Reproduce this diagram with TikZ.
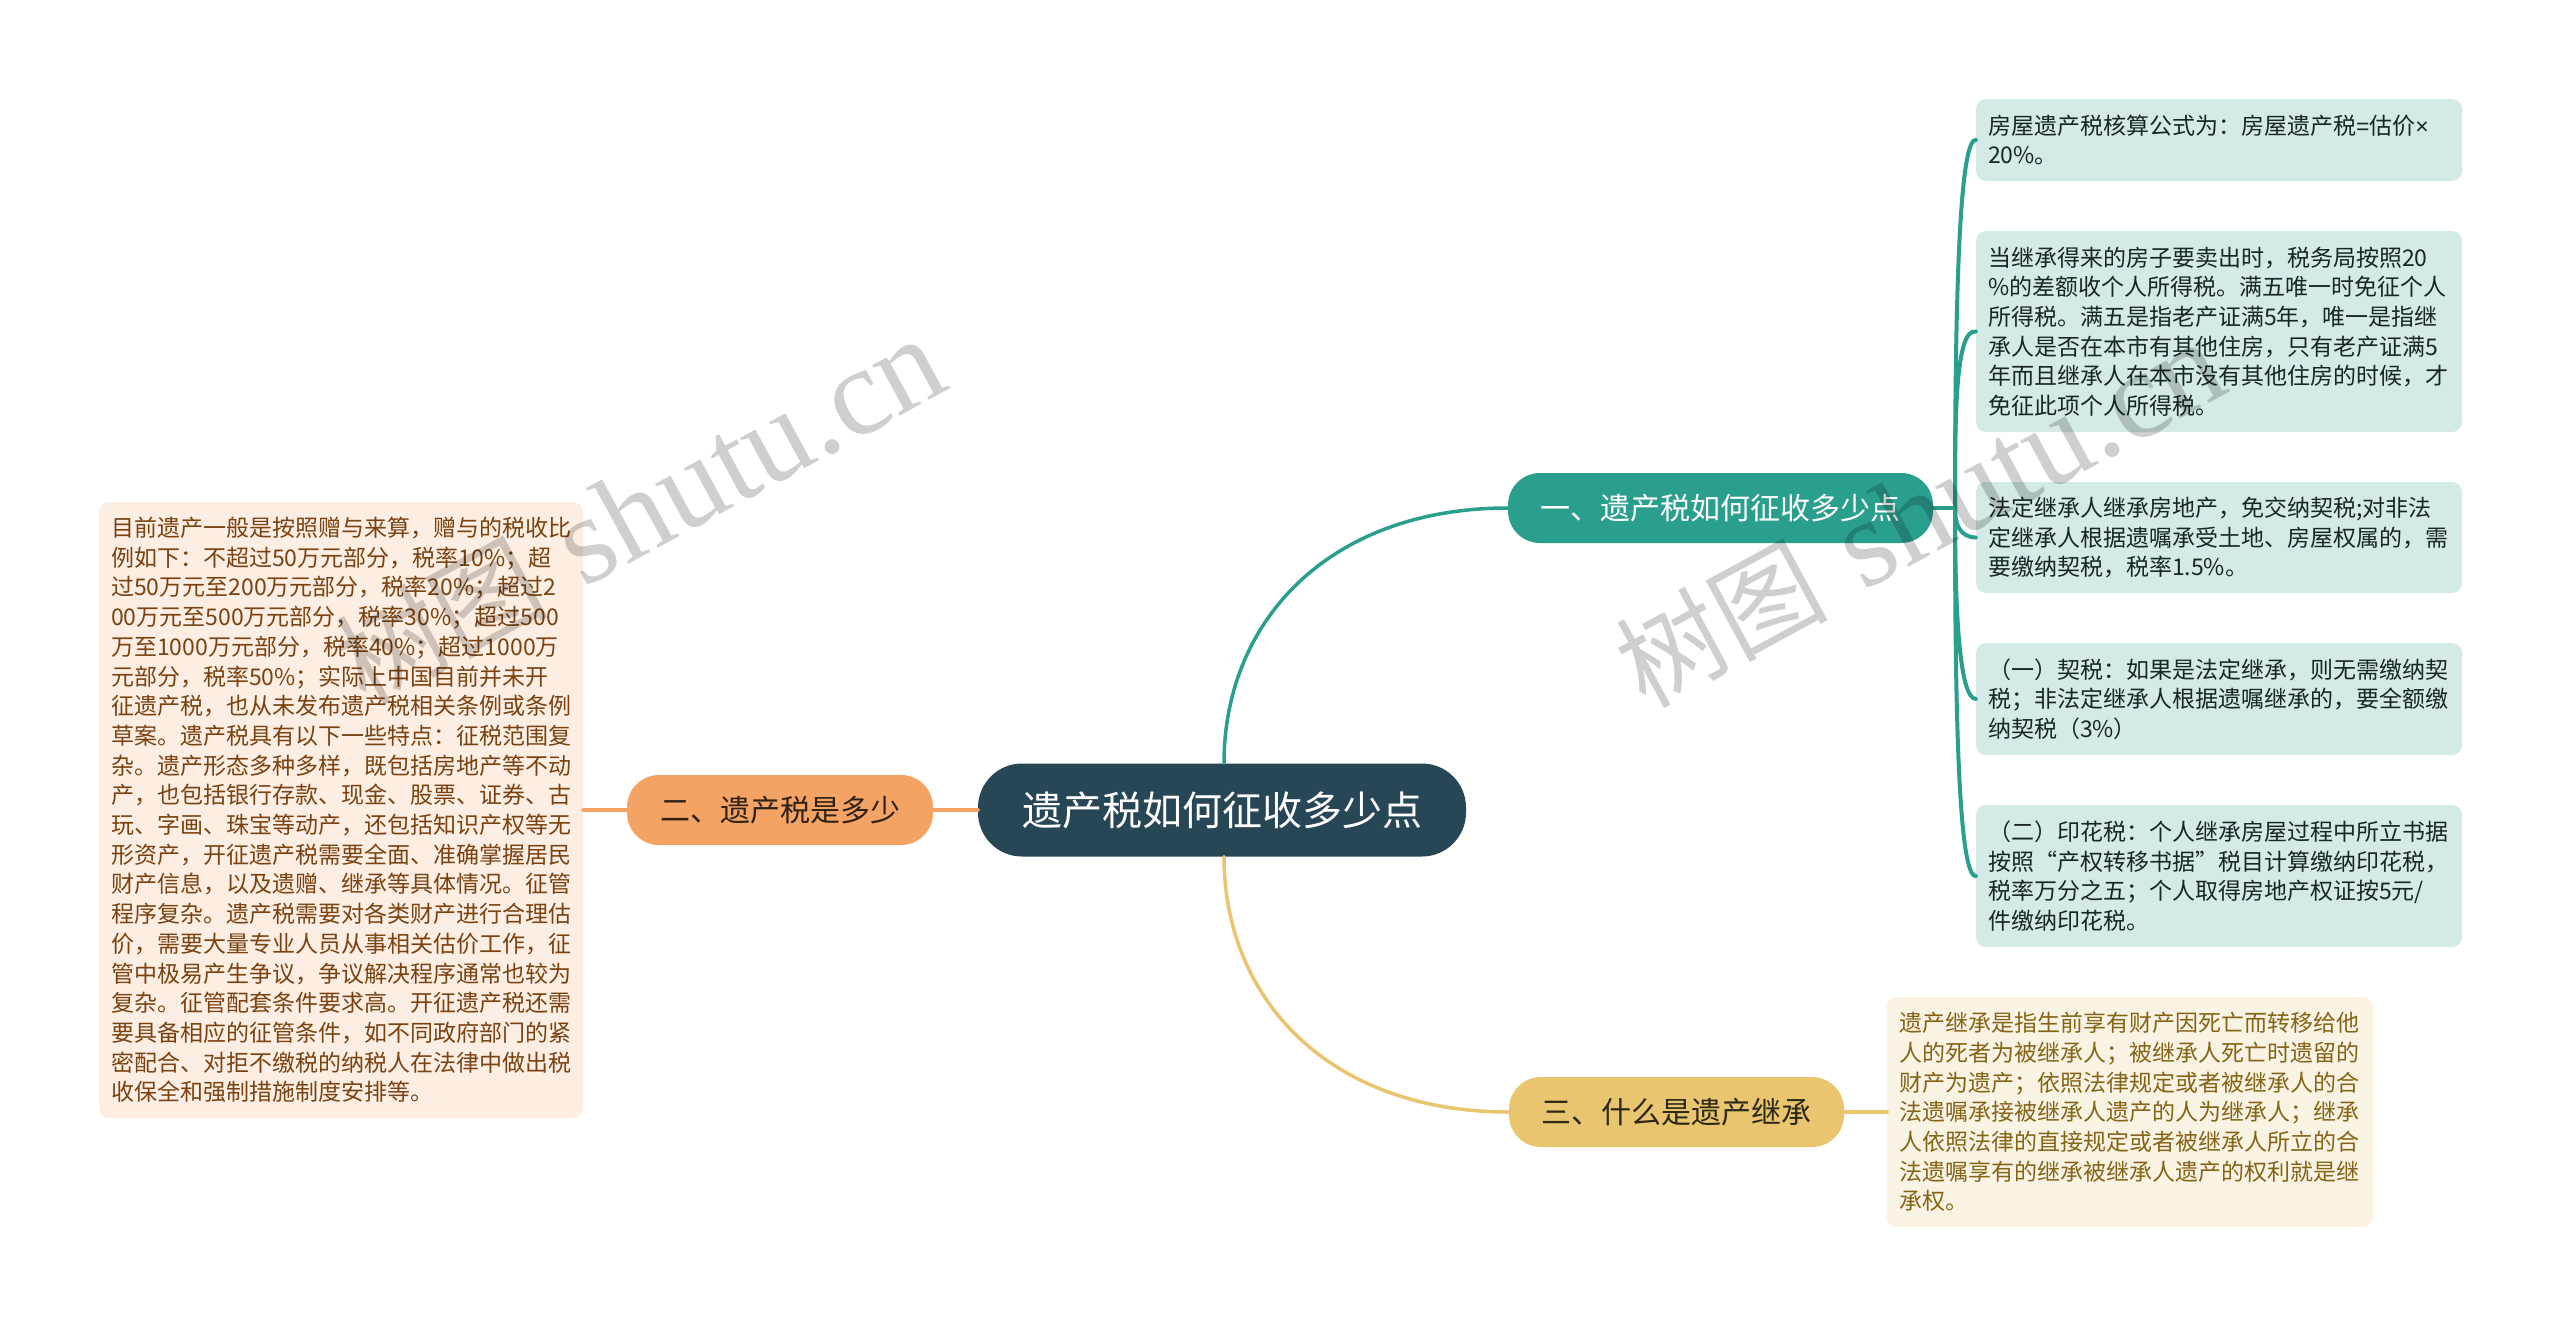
\documentclass[tikz,border=0pt]{standalone}
\usepackage{fontspec}
\setmainfont{Noto Sans CJK SC}
\newfontfamily\wmlatin{Liberation Serif}
\newfontfamily\symlatin{Liberation Sans}
\definecolor{rootc}{HTML}{284756}
\definecolor{tealc}{HTML}{2B9F8E}
\definecolor{oranc}{HTML}{F3A464}
\definecolor{yelc}{HTML}{E8C56E}
\definecolor{tealf}{HTML}{D4EAE7}
\definecolor{oranf}{HTML}{FDEEE3}
\definecolor{yelf}{HTML}{F9F3E3}
\definecolor{tealt}{HTML}{182624}
\definecolor{orant}{HTML}{7A4210}
\definecolor{yelt}{HTML}{856417}
\newcommand{\wmtext}{\fontsize{106}{130}\selectfont 树图\hspace*{36pt}{\fontsize{125}{130}\selectfont\wmlatin shutu.cn}}
\tikzset{
  x=1pt,y=-1pt,
  pill/.style={rounded corners=#1,inner sep=0pt,align=center},
  rootnode/.style={pill=44pt,fill=rootc,text=white,minimum width=488pt,minimum height=93pt,font=\fontsize{40}{48}\selectfont},
  branch/.style={pill=32pt,minimum height=70pt,font=\fontsize{30}{36}\selectfont},
  leaf/.style={rounded corners=10pt,inner xsep=12pt,inner ysep=0pt,align=left,font=\fontsize{23}{29.7}\selectfont},
  tealleaf/.style={leaf,fill=tealf,text=tealt,text width=462pt,minimum height=#1},
  wire/.style={line width=#1,line cap=round},
  wm/.style={rotate=28.5,text=black,opacity=.19,inner sep=0pt}
}
\begin{document}
\begin{tikzpicture}
\useasboundingbox[fill=white] (0,0) rectangle (2560,1326);
\node[rootnode] (root) at (1222,810) {遗产税如何征收多少点};
\node[branch,fill=tealc,text=white,minimum width=425pt] (b1) at (1720.5,508) {一、遗产税如何征收多少点};
\node[branch,fill=oranc,text=black!80!oranc,minimum width=306pt] (b2) at (780,810) {二、遗产税是多少};
\node[branch,fill=yelc,text=black!80!yelc,minimum width=335pt] (b3) at (1676.5,1112) {三、什么是遗产继承};
\node[tealleaf=82pt] (a1) at (2219,140) {房屋遗产税核算公式为：房屋遗产税{\symlatin =}估价{\symlatin ×}\\20\%。};
\node[tealleaf=201pt] (a2) at (2219,331.5) {当继承得来的房子要卖出时，税务局按照20\\\%的差额收个人所得税。满五唯一时免征个人\\所得税。满五是指老产证满5年，唯一是指继\\承人是否在本市有其他住房，只有老产证满5\\年而且继承人在本市没有其他住房的时候，才\\免征此项个人所得税。};
\node[tealleaf=111pt] (a3) at (2219,537.5) {法定继承人继承房地产，免交纳契税;对非法\\定继承人根据遗嘱承受土地、房屋权属的，需\\要缴纳契税，税率1.5\%。};
\node[tealleaf=112pt] (a4) at (2219,699) {（一）契税：如果是法定继承，则无需缴纳契\\税；非法定继承人根据遗嘱继承的，要全额缴\\纳契税（3\%）};
\node[tealleaf=142pt] (a5) at (2219,876) {（二）印花税：个人继承房屋过程中所立书据\\按照“产权转移书据”税目计算缴纳印花税，\\税率万分之五；个人取得房地产权证按5元/\\件缴纳印花税。};
\node[leaf,fill=oranf,text=orant,text width=460pt,minimum height=616pt] (l1) at (341,810) {目前遗产一般是按照赠与来算，赠与的税收比\\例如下：不超过50万元部分，税率10\%；超\\过50万元至200万元部分，税率20\%；超过2\\00万元至500万元部分，税率30\%；超过500\\万至1000万元部分，税率40\%；超过1000万\\元部分，税率50\%；实际上中国目前并未开\\征遗产税，也从未发布遗产税相关条例或条例\\草案。遗产税具有以下一些特点：征税范围复\\杂。遗产形态多种多样，既包括房地产等不动\\产，也包括银行存款、现金、股票、证券、古\\玩、字画、珠宝等动产，还包括知识产权等无\\形资产，开征遗产税需要全面、准确掌握居民\\财产信息，以及遗赠、继承等具体情况。征管\\程序复杂。遗产税需要对各类财产进行合理估\\价，需要大量专业人员从事相关估价工作，征\\管中极易产生争议，争议解决程序通常也较为\\复杂。征管配套条件要求高。开征遗产税还需\\要具备相应的征管条件，如不同政府部门的紧\\密配合、对拒不缴税的纳税人在法律中做出税\\收保全和强制措施制度安排等。};
\node[leaf,fill=yelf,text=yelt,text width=462pt,minimum height=230pt] (y1) at (2130,1112) {遗产继承是指生前享有财产因死亡而转移给他\\人的死者为被继承人；被继承人死亡时遗留的\\财产为遗产；依照法律规定或者被继承人的合\\法遗嘱承接被继承人遗产的人为继承人；继承\\人依照法律的直接规定或者被继承人所立的合\\法遗嘱享有的继承被继承人遗产的权利就是继\\承权。};
\coordinate (hub) at (1955,508);
\draw[wire=3.5pt,tealc] ([xshift=2pt]root.north) .. controls (1224,620) and (1330,508) .. (b1.west);
\draw[wire=3.5pt,yelc] ([xshift=2pt]root.south) .. controls (1224,1000) and (1330,1112) .. (b3.west);
\draw[wire=4pt,oranc] (root.west) -- (b2.east);
\draw[wire=4pt,oranc] (b2.west) -- (l1.east);
\draw[wire=4pt,yelc] (b3.east) -- (y1.west);
\draw[wire=4pt,tealc] (b1.east) -- (hub);
\draw[wire=4pt,tealc] (hub) .. controls (1955,330) and (1958,138) .. (a1.west);
\draw[wire=4pt,tealc] (hub) .. controls (1955,420) and (1955,328) .. (a2.west);
\draw[wire=4pt,tealc] (hub) .. controls (1955,525) and (1960,537) .. (a3.west);
\draw[wire=4pt,tealc] (hub) .. controls (1955,620) and (1960,698) .. (a4.west);
\draw[wire=4pt,tealc] (hub) .. controls (1955,700) and (1958,877) .. (a5.west);
\node[wm] (w1) at (640,512) {\wmtext};
\node[wm] (w2) at (1920,515) {\wmtext};
\end{tikzpicture}
\end{document}
